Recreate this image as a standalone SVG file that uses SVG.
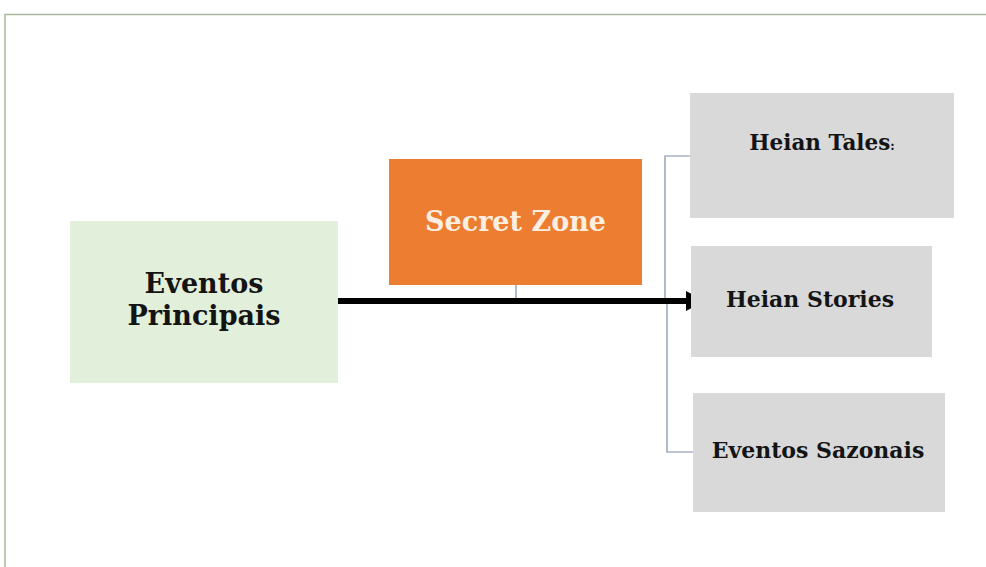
<svg xmlns="http://www.w3.org/2000/svg" width="986" height="567" viewBox="0 0 986 567">
  <style>
    .lbl { font-family: "DejaVu Serif", "Liberation Serif", serif; font-weight: bold; text-anchor: middle; fill: #141414; }
    .conn { fill: none; stroke: #7f8ea6; stroke-width: 1.2; }
  </style>
  <rect x="0" y="0" width="986" height="567" fill="#fff"/>
  <path d="M5,567 V14.5 H986" fill="none" stroke="#a9b99a" stroke-width="1.5"/>

  <g id="connectors">
    <path class="conn" d="M516,285 V299"/>
    <path class="conn" d="M690,156 H665 V301 M667,301 V452 H693"/>
    <path d="M338,301 H690" stroke="#000" stroke-width="6" fill="none"/>
    <polygon points="686,291 705,301 686,311" fill="#000"/>
  </g>

  <g id="eventos-principais">
    <rect x="70" y="221" width="268" height="162" fill="#e2efda"/>
    <text class="lbl" x="204" y="293" font-size="27">Eventos</text>
    <text class="lbl" x="204" y="325" font-size="27">Principais</text>
  </g>

  <g id="secret-zone">
    <rect x="389" y="159" width="253" height="126" fill="#ed7d31"/>
    <text class="lbl" x="515.5" y="231" font-size="27" style="fill:#fcefe2">Secret Zone</text>
  </g>

  <g id="heian-tales">
    <rect x="690" y="93" width="264" height="125" fill="#d9d9d9"/>
    <text class="lbl" x="822" y="150" font-size="21.5">Heian Tales<tspan font-size="12">:</tspan></text>
  </g>

  <g id="heian-stories">
    <rect x="691" y="246" width="241" height="111" fill="#d9d9d9"/>
    <text class="lbl" x="810" y="307" font-size="22">Heian Stories</text>
  </g>

  <g id="eventos-sazonais">
    <rect x="693" y="393" width="252" height="119" fill="#d9d9d9"/>
    <text class="lbl" x="818" y="458" font-size="22">Eventos Sazonais</text>
  </g>
</svg>
